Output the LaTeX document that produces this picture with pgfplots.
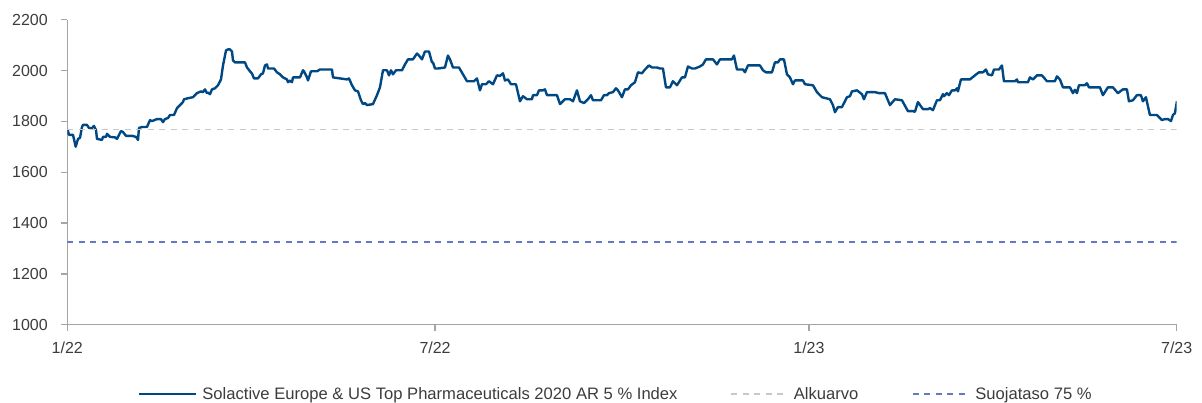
\documentclass[border=0pt]{standalone}
\usepackage{fontspec}
\setmainfont{Liberation Sans}
\usepackage{pgfplots}
\usepackage{pgfplotstable}
\pgfplotsset{compat=1.18}
\definecolor{idx}{RGB}{0,72,132}
\definecolor{alku}{RGB}{200,200,200}
\definecolor{suoja}{RGB}{100,120,195}
\definecolor{axgrey}{RGB}{165,165,165}
\definecolor{txt}{RGB}{60,60,60}
\pgfplotsset{
  leg solid/.style={legend image code/.code={\draw[##1] (0pt,0pt) -- (57pt,0pt);}},
  leg dash/.style={legend image code/.code={\draw[##1] (0pt,0pt) -- (52pt,0pt); \path (57pt,0pt);}},
}

% px = horizontal position (1/22 at 67.3, 7/23 at 1176.7)
\pgfplotstableread{
px val
67.7 1766
69 1747
73 1747
75.7 1700
78 1731
80 1735
82 1778
83 1786
87 1786
89 1774
92 1774
94 1782
96 1766
97 1731
102 1727
103 1739
106 1739
107 1751
110 1739
115 1737
117 1731
121 1762
123 1758
126 1743
132 1743
136 1739
138 1727
139 1774
142 1778
147 1778
150 1805
152 1801
157 1809
161 1809
163 1797
165 1809
168 1813
170 1825
174 1825
177 1852
180 1864
183 1876
184 1887
188 1891
193 1895
197 1911
201 1918
203 1915
205 1926
207 1911
208 1913
210 1907
212 1926
215 1930
218 1942
221 1965
223 2020
226 2079
228 2083
230 2083
232 2075
233 2040
235 2032
245 2032
247 2012
250 1997
252 1988
254 1969
258 1969
261 1985
263 1989
265 2020
267 2024
268 2008
274 2008
277 1993
280 1985
283 1973
287 1965
288 1954
290 1960
292 1954
293 1973
300 1973
303 2001
304 1997
307 1973
308 1961
311 1997
317 1997
320 2004
332 2004
333 1973
347 1965
349 1969
352 1942
355 1922
358 1918
361 1883
363 1868
365 1872
367 1864
373 1868
377 1903
380 1934
383 2001
387 2001
389 1981
391 2001
393 1985
396 2001
402 2001
405 2024
408 2044
413 2044
417 2067
419 2059
422 2044
425 2075
429 2075
432 2032
433 2032
435 2008
438 2008
445 2012
448 2059
450 2044
453 2012
459 2012
463 1985
467 1958
474 1958
477 1969
480 1922
482 1946
486 1946
489 1958
493 1946
497 1981
500 1979
503 1989
505 1961
508 1965
511 1946
516 1946
520 1879
523 1899
527 1887
532 1887
533 1903
537 1903
539 1922
543 1922
545 1926
547 1903
552 1903
557 1903
560 1868
565 1887
570 1887
573 1879
577 1922
580 1879
584 1872
588 1887
591 1903
593 1883
601 1883
604 1903
607 1903
609 1911
613 1915
616 1930
618 1922
622 1895
625 1926
628 1926
631 1942
635 1954
638 1993
642 1989
645 2004
649 2020
652 2012
657 2012
660 2008
663 2008
666 1934
670 1934
673 1958
677 1942
682 1973
685 1973
688 2016
692 2008
695 2008
700 2016
703 2024
706 2044
713 2044
717 2024
720 2044
732 2044
734 2059
737 2004
743 2004
745 1993
748 2020
760 2020
763 2001
766 1993
772 1993
775 2032
778 2032
780 2044
784 2044
787 1985
790 1973
793 1946
795 1961
803 1961
805 1946
813 1942
817 1915
822 1895
830 1887
833 1864
835 1836
838 1856
842 1856
847 1895
850 1899
852 1918
857 1922
862 1907
864 1887
867 1915
875 1915
879 1911
885 1911
890 1864
895 1887
902 1883
908 1840
913 1840
915 1838
918 1876
923 1848
928 1848
930 1852
933 1844
937 1883
940 1883
943 1907
944 1899
947 1911
949 1903
952 1922
955 1922
957 1930
958 1918
961 1965
970 1965
975 1981
979 1993
983 1993
986 2004
988 1985
992 1981
994 2004
999 2004
1002 2020
1004 1958
1007 1958
1015 1958
1017 1965
1018 1954
1028 1954
1030 1973
1033 1965
1037 1981
1042 1981
1047 1958
1055 1958
1057 1977
1060 1965
1063 1934
1070 1934
1073 1911
1075 1924
1077 1911
1079 1942
1085 1942
1087 1950
1089 1934
1100 1934
1103 1903
1108 1934
1113 1934
1118 1911
1123 1926
1127 1926
1129 1879
1133 1883
1137 1903
1141 1903
1143 1879
1146 1895
1150 1825
1157 1825
1162 1805
1165 1809
1168 1809
1171 1801
1173 1825
1175 1832
1177 1879
}\indexdata

\begin{document}
\begin{tikzpicture}
\path[use as bounding box] (0,0) rectangle (1202pt,403pt);
\begin{axis}[
  at={(67.3pt,78.3pt)}, anchor=south west,
  scale only axis, width=1109.4pt, height=305pt,
  xmin=0, xmax=546, ymin=1000, ymax=2200,
  axis x line=bottom, axis y line=left,
  axis line style={axgrey, line width=1.3pt, -},
  xtick={0,181,365,546}, xticklabels={1/22,7/22,1/23,7/23},
  ytick={1000,1200,...,2200},
  tick align=outside, major tick length=6pt,
  tick style={axgrey, line width=1.3pt},
  /pgf/number format/1000 sep={},
  /pgf/number format/assume math mode=true,
  ticklabel style={font=\fontsize{16}{19}\selectfont, text=txt},
  yticklabel style={anchor=east, inner sep=0pt, xshift=-13.3pt},
  xticklabel style={anchor=base, inner sep=0pt, yshift=-23.3pt},
  legend columns=3,
  legend style={
    at={(0.0637,-0.227)}, anchor=west,
    draw=none, fill=none, inner sep=0pt, outer sep=0pt,
    font=\fontsize{16.6}{19.5}\selectfont, text=txt,
    nodes={inner sep=0pt},
    /tikz/every odd column/.append style={column sep=5pt},
    /tikz/every even column/.append style={column sep=52pt},
  },
]
\addplot[idx, line width=2.4pt, line join=round, leg solid]
  table[x expr=(\thisrow{px}-67.3)/2.032, y=val] {\indexdata};
\addlegendentry{\makebox[476pt][l]{Solactive Europe \& US Top Pharmaceuticals 2020 AR 5 \% Index}}
\addplot[alku, line width=1.5pt, dash pattern=on 6pt off 5.5pt, leg dash]
  coordinates {(0,1767) (546,1767)};
\addlegendentry{\makebox[66pt][l]{Alkuarvo}}
\addplot[suoja, line width=1.5pt, dash pattern=on 6pt off 5.5pt, leg dash]
  coordinates {(0,1325) (546,1325)};
\addlegendentry{\makebox[113pt][l]{Suojataso 75 \%}}
\end{axis}
\end{tikzpicture}
\end{document}
